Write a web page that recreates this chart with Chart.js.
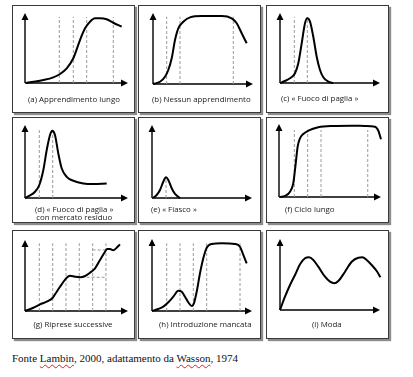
<!DOCTYPE html>
<html><head><meta charset="utf-8">
<script src="https://cdn.jsdelivr.net/npm/chart.js@4"></script>
<style>
body{margin:0;background:#fff;width:413px;height:377px;position:relative;overflow:hidden;}
.box{position:absolute;border:1px solid #3a3a3a;box-shadow:2px 2px 1px #8c8c8c;background:#fff;box-sizing:border-box;}
canvas.pc{position:absolute;}
.cap{position:absolute;font-family:"Open Sans",sans-serif;font-size:7.9px;color:#222;white-space:nowrap;line-height:8.5px;}
.foot{position:absolute;left:12px;top:352px;font-family:"Liberation Serif",serif;font-size:11px;color:#111;white-space:nowrap;}
.sp{text-decoration:underline wavy #e02020;text-decoration-thickness:1px;text-underline-offset:2px;}
</style></head>
<body>
<div class="foot">Fonte <span class="sp">Lambin</span>, 2000, adattamento da <span class="sp">Wasson</span>, 1974</div>
<script>
// ---- data (time on x 0..10, sales on y 0..10) ----
const curveA = [[0.1,0],[1.78,0.43],[2.75,0.81],[3.4,1.29],[4.05,2.1],[4.69,3.53],[5.34,6.14],[5.83,7.81],[6.31,8.76],[6.8,9.24],[7.28,9.24],[7.93,9.1],[8.57,8.61],[9.39,8.04]];
const dashA = [3.33,4.69,5.99,8.57];
const curveB = [[0,0],[0.7,0.32],[1.2,1.03],[1.53,1.97],[1.87,3.62],[2.2,6.2],[2.53,7.85],[3.03,8.77],[3.7,9.39],[4.87,9.58],[6.87,9.58],[7.87,9.25],[8.37,8.55],[8.87,7.14],[9.37,5.73]];
const dashB = [1.37,2.7,8.03];
const curveC = [[0,0],[0.5,0.29],[1,0.67],[1.5,1.39],[1.83,2.81],[2.17,5.67],[2.5,8.53],[2.73,9.24],[3,8.76],[3.33,6.61],[3.67,3.76],[4,1.86],[4.33,0.81],[4.83,0.19],[5.33,0]];
const dashC = [1.43,2.73];
const curveD = [[0,0],[0.49,0.35],[0.97,0.86],[1.39,1.78],[1.78,3.84],[2.11,6.58],[2.43,8.63],[2.65,9.22],[2.91,8.63],[3.23,6.12],[3.56,4.07],[4.05,2.9],[4.69,2.36],[5.66,2],[6.63,1.92],[7.93,2]];
const dashD = [1.39,2.69];
const curveE = [[0.1,0],[0.47,0.41],[0.8,1.1],[1.13,2.23],[1.4,2.84],[1.63,2.47],[1.97,1.33],[2.3,0.55],[2.8,0]];
const dashE = [1.4];
const curveF = [[0.1,0],[0.59,0.14],[1.08,0.73],[1.4,1.88],[1.64,4.62],[1.83,6.9],[2.06,8.04],[2.38,8.63],[2.87,9.08],[3.85,9.55],[5.16,9.73],[7.13,9.77],[8.43,9.73],[9.41,9.63],[9.74,9.08],[10,7.9]];
const dashF = [1.5,2.81,4.12,8.7];
const curveG = [[0,0],[0.81,0.46],[1.46,0.94],[2.11,1.31],[2.69,1.87],[3.08,2.72],[3.56,3.76],[4.05,4.69],[4.37,4.97],[4.85,4.83],[5.34,4.75],[5.83,4.93],[6.31,5.39],[6.8,6.01],[7.28,7.18],[7.77,8.35],[7.99,8.73],[8.25,8.73],[8.57,8.55],[8.9,8.92],[9.22,9.39]];
const dashG = [1.39,2.69,3.98,5.27,6.57,7.86];
const hdashG = [[5.5,7.86,4.75],[6.57,7.86,8.6]]; // [x from, x to, y]
const curveH = [[0,0],[0.63,0.28],[1.13,0.6],[1.63,1.21],[2.13,1.99],[2.63,2.82],[2.97,2.68],[3.3,1.99],[3.63,1.21],[3.97,0.7],[4.2,1.1],[4.47,2.68],[4.8,5.24],[5.13,7.32],[5.47,8.79],[5.97,9.31],[6.97,9.4],[8.3,9.31],[8.8,8.93],[9.13,7.78],[9.47,6.62]];
const dashH = [1.47,2.8,4.13,5.47,8.8];
const curveI = [[0,0],[0.5,1.87],[1,3.52],[1.5,4.93],[2,6.44],[2.5,7.28],[2.9,7.42],[3.33,7.04],[3.83,6.1],[4.5,4.69],[5,3.99],[5.43,3.76],[5.83,4.08],[6.5,5.39],[7.17,6.8],[7.83,7.37],[8.23,7.42],[8.67,7.04],[9.17,6.34],[9.67,5.49],[10.05,4.6]];
const dashI = [];
const captions = ["(a) Apprendimento lungo","(b) Nessun apprendimento","(c) « Fuoco di paglia »","(d) « Fuoco di paglia »\ncon mercato residuo","(e) « Fiasco »","(f) Ciclo lungo","(g) Riprese successive","(h) Introduzione mancata","(i) Moda"];

// ---- layout ----
const panels = [
 {curve:curveA,dash:dashA,dTop:9.43,box:[12,5,123,108],ax:[13,8,116,78],cap:{c:74,y:99}},
 {curve:curveB,dash:dashB,dTop:9.48,box:[138,5,123,108],ax:[15,8,115,79],cap:{l:152,y:99}},
 {curve:curveC,dash:dashC,dTop:9.39,box:[266,5,123,108],ax:[14,8,114,78],cap:{l:281,y:98}},
 {curve:curveD,dash:dashD,dTop:9.3,box:[12,117,123,106],ax:[13,8,116,81],cap:{c:74,y:209}},
 {curve:curveE,dash:dashE,dTop:2.8,box:[138,117,123,106],ax:[14,8,114,81],cap:{l:151,y:209}},
 {curve:curveF,dash:dashF,dTop:9.18,box:[266,117,123,106],ax:[13,7,115,80],cap:{c:310,y:209}},
 {curve:curveG,dash:dashG,dTop:9.53,h:hdashG,box:[12,230,123,109],ax:[13,10,116,81],cap:{c:73,y:324}},
 {curve:curveH,dash:dashH,dTop:9.4,box:[138,230,123,109],ax:[14,9,114,81],cap:{r:252,y:324}},
 {curve:curveI,dash:dashI,dTop:9.4,box:[266,230,123,109],ax:[14,9,114,80],cap:{c:327,y:324}}
];

const arrows = {
  id:'arrows',
  beforeDatasetsDraw(chart){
    const {ctx, chartArea:a} = chart;
    ctx.save();
    ctx.strokeStyle='#000'; ctx.fillStyle='#000'; ctx.lineWidth=1.4;
    ctx.beginPath();
    ctx.moveTo(a.left, a.bottom); ctx.lineTo(a.left, a.top+5);
    ctx.moveTo(a.left, a.bottom); ctx.lineTo(a.right-5, a.bottom);
    ctx.stroke();
    ctx.beginPath();
    ctx.moveTo(a.left, a.top); ctx.lineTo(a.left-3.5, a.top+7); ctx.lineTo(a.left+3.5, a.top+7); ctx.closePath();
    ctx.moveTo(a.right, a.bottom); ctx.lineTo(a.right-7, a.bottom-3.5); ctx.lineTo(a.right-7, a.bottom+3.5); ctx.closePath();
    ctx.fill();
    ctx.restore();
  }
};

panels.forEach((p,i)=>{
  const [bx,by,bw,bh] = p.box;
  const box = document.createElement('div');
  box.className='box';
  Object.assign(box.style,{left:bx+'px',top:by+'px',width:bw+'px',height:bh+'px'});
  document.body.appendChild(box);
  const cv = document.createElement('canvas');
  cv.className='pc'; cv.width=bw; cv.height=bh;
  Object.assign(cv.style,{left:bx+'px',top:by+'px',width:bw+'px',height:bh+'px'});
  document.body.appendChild(cv);

  const cap = document.createElement('div');
  cap.className='cap';
  const lines = captions[i].split('\n');
  cap.innerHTML = lines.join('<br>');
  cap.style.textAlign='center';
  document.body.appendChild(cap);
  const w = cap.offsetWidth;
  let left = p.cap.l!==undefined ? p.cap.l : (p.cap.r!==undefined ? p.cap.r - w : p.cap.c - w/2);
  cap.style.left = left+'px';
  cap.style.top = (p.cap.y - 4.5)+'px';

  const datasets = [{
    data: p.curve.map(([x,y])=>({x,y})),
    borderColor:'#000', borderWidth:2, pointRadius:0, cubicInterpolationMode:'monotone', clip:false, fill:false
  }];
  p.dash.forEach(x=>datasets.push({
    data:[{x,y:0},{x,y:p.dTop}], borderColor:'#9a9a9a', borderWidth:1, borderDash:[3,2], pointRadius:0, clip:false
  }));
  (p.h||[]).forEach(([x0,x1,y])=>datasets.push({
    data:[{x:x0,y},{x:x1,y}], borderColor:'#9a9a9a', borderWidth:1, borderDash:[3,2], pointRadius:0, clip:false
  }));
  const [L,T,R,B] = p.ax;
  new Chart(cv,{
    type:'line',
    data:{datasets},
    options:{
      responsive:false, animation:false, events:[],
      layout:{padding:{left:L,top:T,right:bw-R,bottom:bh-B}},
      scales:{x:{type:'linear',min:0,max:10,display:false},y:{type:'linear',min:0,max:10,display:false}},
      plugins:{legend:{display:false},tooltip:{enabled:false}}
    },
    plugins:[arrows]
  });
});
</script>
</body></html>
